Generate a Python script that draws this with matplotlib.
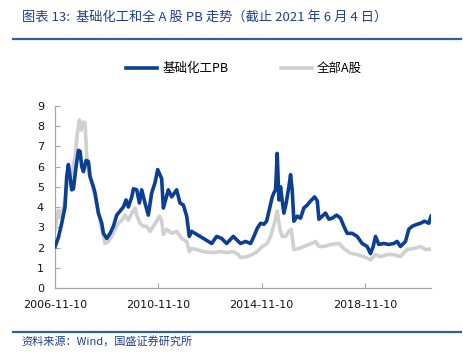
import numpy as np
import pandas as pd
import matplotlib
matplotlib.use('Agg')
import matplotlib.pyplot as plt
import matplotlib.dates as mdates
from matplotlib.lines import Line2D

plt.rcParams['font.family'] = ['Noto Sans CJK SC', 'DejaVu Sans']

# 基础化工PB
chem_dates = ['2006-11-10', '2006-12-27', '2007-02-12', '2007-03-30', '2007-04-23', '2007-05-17',
              '2007-06-10', '2007-07-03', '2007-07-27', '2007-09-03', '2007-10-06', '2007-10-30',
              '2007-11-22', '2007-12-16', '2008-01-22', '2008-02-24', '2008-03-19', '2008-05-05',
              '2008-05-28', '2008-06-21', '2008-07-15', '2008-08-31', '2008-09-24', '2008-11-10',
              '2008-12-27', '2009-02-12', '2009-03-31', '2009-05-17', '2009-07-03', '2009-08-10',
              '2009-09-12', '2009-10-30', '2009-11-22', '2010-01-08', '2010-02-15', '2010-03-19',
              '2010-05-05', '2010-06-21', '2010-08-08', '2010-09-24', '2010-11-01', '2010-12-27',
              '2011-01-20', '2011-03-31', '2011-05-17', '2011-07-27', '2011-09-12', '2011-10-30',
              '2011-12-16', '2012-01-22', '2012-02-24', '2012-05-05', '2012-08-08', '2012-12-04',
              '2013-02-12', '2013-04-23', '2013-07-03', '2013-10-06', '2013-12-16', '2014-01-17',
              '2014-03-28', '2014-06-07', '2014-07-24', '2014-09-10', '2014-10-27', '2014-12-13',
              '2015-01-20', '2015-03-08', '2015-04-10', '2015-05-03', '2015-05-27', '2015-06-19',
              '2015-07-13', '2015-08-05', '2015-08-29', '2015-09-22', '2015-10-24', '2015-12-01',
              '2015-12-25', '2016-01-17', '2016-02-10', '2016-03-28', '2016-05-14', '2016-06-30',
              '2016-08-17', '2016-10-03', '2016-11-29', '2017-01-06', '2017-01-29', '2017-03-17',
              '2017-05-03', '2017-06-19', '2017-08-05', '2017-10-06', '2017-12-01', '2018-01-17',
              '2018-03-05', '2018-05-14', '2018-07-24', '2018-10-03', '2018-12-13', '2019-01-29',
              '2019-03-08', '2019-04-10', '2019-05-27', '2019-08-05', '2019-10-15', '2019-12-25',
              '2020-02-10', '2020-03-28', '2020-06-07', '2020-07-24', '2020-09-10', '2020-11-20',
              '2021-01-06', '2021-03-03', '2021-05-03', '2021-06-04']
chem_pb = [2.05, 2.5, 3.2, 4.0, 5.5, 6.1,
           5.5, 4.85, 4.9, 6.0, 6.8, 6.75,
           6.0, 5.75, 6.3, 6.25, 5.5, 5.0,
           4.7, 4.2, 3.7, 3.2, 2.7, 2.45,
           2.7, 3.05, 3.6, 3.8, 4.0, 4.35,
           4.0, 4.5, 4.9, 4.85, 4.2, 4.85,
           4.2, 3.6, 4.7, 5.2, 5.85, 5.4,
           3.95, 4.85, 4.5, 4.85, 4.2, 4.1,
           3.55, 2.55, 2.8, 2.65, 2.45, 2.2,
           2.55, 2.45, 2.2, 2.55, 2.3, 2.2,
           2.3, 2.2, 2.55, 2.95, 3.2, 3.15,
           3.3, 4.0, 4.5, 4.7, 4.85, 6.65,
           4.35, 5.0, 4.3, 3.7, 4.2, 5.0,
           5.6, 4.85, 3.3, 3.55, 3.45, 3.95,
           4.1, 4.3, 4.5, 4.3, 3.4, 3.55,
           3.7, 3.4, 3.45, 3.6, 3.45, 3.05,
           2.7, 2.7, 2.55, 2.2, 2.05, 1.7,
           2.05, 2.55, 2.15, 2.2, 2.15, 2.2,
           2.3, 2.05, 2.3, 2.9, 3.05, 3.15,
           3.2, 3.3, 3.2, 3.55]

# 全部A股PB
all_dates = ['2006-11-10', '2006-12-27', '2007-01-19', '2007-03-08', '2007-04-23', '2007-06-10',
             '2007-07-03', '2007-08-19', '2007-09-22', '2007-10-20', '2007-11-13', '2007-12-16',
             '2008-01-08', '2008-02-01', '2008-02-24', '2008-04-11', '2008-05-28', '2008-07-15',
             '2008-08-31', '2008-10-17', '2008-12-04', '2009-01-20', '2009-03-08', '2009-04-23',
             '2009-06-10', '2009-07-27', '2009-09-12', '2009-10-30', '2009-12-16', '2010-01-08',
             '2010-02-24', '2010-04-11', '2010-05-28', '2010-07-15', '2010-08-31', '2010-10-17',
             '2010-11-24', '2010-12-27', '2011-01-20', '2011-03-08', '2011-05-17', '2011-07-27',
             '2011-10-06', '2011-12-16', '2012-01-22', '2012-02-24', '2012-05-05', '2012-08-08',
             '2012-12-27', '2013-03-31', '2013-07-03', '2013-10-06', '2013-12-16', '2014-01-17',
             '2014-04-20', '2014-06-30', '2014-09-10', '2014-11-19', '2015-01-29', '2015-03-17',
             '2015-05-03', '2015-06-19', '2015-07-27', '2015-08-29', '2015-10-15', '2015-12-01',
             '2016-01-03', '2016-02-10', '2016-04-20', '2016-06-30', '2016-09-10', '2016-12-13',
             '2017-01-29', '2017-04-10', '2017-07-13', '2017-11-08', '2018-01-17', '2018-04-20',
             '2018-07-24', '2018-10-27', '2019-01-29', '2019-04-10', '2019-06-19', '2019-09-22',
             '2019-12-25', '2020-03-28', '2020-06-30', '2020-10-03', '2021-01-06', '2021-03-17',
             '2021-06-04']
all_pb = [2.9, 3.85, 3.5, 4.0, 5.0, 5.35,
          5.6, 6.5, 7.65, 8.3, 7.8, 8.2,
          8.15, 6.5, 5.7, 5.2, 4.5, 3.7,
          2.9, 2.2, 2.3, 2.55, 2.9, 3.2,
          3.35, 3.6, 3.35, 3.7, 3.95, 3.6,
          3.2, 3.05, 3.05, 2.8, 3.05, 3.3,
          3.55, 3.3, 2.65, 2.9, 2.7, 2.8,
          2.45, 2.3, 1.8, 1.95, 1.9, 1.8,
          1.75, 1.8, 1.75, 1.8, 1.65, 1.5,
          1.55, 1.65, 1.8, 2.05, 2.2, 2.55,
          3.1, 3.8, 2.9, 2.55, 2.55, 2.8,
          2.9, 1.9, 1.95, 2.05, 2.15, 2.3,
          2.05, 2.05, 2.15, 2.2, 1.95, 1.72,
          1.65, 1.55, 1.4, 1.65, 1.55, 1.65,
          1.65, 1.55, 1.9, 1.95, 2.05, 1.9,
          1.92]

tick_dates = ['2006-11-10', '2010-11-10', '2014-11-10', '2018-11-10']
y_ticks = list(range(0, 10))

blue = '#0c3f93'
grey = '#d0d0d0'
title_blue = '#1f3f8c'

fig = plt.figure(figsize=(4.63, 3.6), dpi=100)
ax = fig.add_axes([0.119, 0.2, 0.812, 0.506])

ax.plot(pd.to_datetime(all_dates), all_pb, color=grey, lw=2.6, label='全部A股', zorder=2)
ax.plot(pd.to_datetime(chem_dates), chem_pb, color=blue, lw=2.6, label='基础化工PB', zorder=3)

ax.set_xlim(pd.Timestamp('2006-11-10'), pd.Timestamp('2021-06-04'))
ax.set_ylim(0, 9)
ax.set_yticks(y_ticks)
ax.set_xticks(pd.to_datetime(tick_dates))
ax.xaxis.set_major_formatter(mdates.DateFormatter('%Y-%m-%d'))
for s in ['top', 'right']:
    ax.spines[s].set_visible(False)
for s in ['left', 'bottom']:
    ax.spines[s].set_color('#a6a6a6')
    ax.spines[s].set_linewidth(0.9)
ax.tick_params(axis='both', direction='in', length=3.5, color='#a6a6a6',
               labelsize=8, labelcolor='#111111')
ax.tick_params(axis='y', pad=8)
ax.tick_params(axis='x', pad=9)
for lab in ax.get_xticklabels() + ax.get_yticklabels():
    lab.set_family('DejaVu Sans')

# legend, blue first
handles = [Line2D([], [], color=blue, lw=2.6), Line2D([], [], color=grey, lw=2.6)]
fig.legend(handles, ['基础化工PB', '全部A股'], loc='center', ncol=2,
           bbox_to_anchor=(0.527, 0.81), frameon=False, fontsize=9,
           handlelength=2.5, handletextpad=0.4, columnspacing=4.2)

# header and footer
fig.text(0.047, 0.953, '图表 13:  基础化工和全 A 股 PB 走势（截止 2021 年 6 月 4 日）',
         color=title_blue, fontsize=9.5, style='italic', va='center', ha='left')
fig.add_artist(Line2D([0.028, 0.995], [0.892, 0.892], color='#2f5fa6', lw=1.6))
fig.add_artist(Line2D([0.028, 0.995], [0.078, 0.078], color='#2f5fa6', lw=1.6))
fig.text(0.047, 0.053, '资料来源：Wind，国盛证券研究所',
         color=title_blue, fontsize=8, style='italic', va='center', ha='left')

fig.savefig('out.png', dpi=100)
